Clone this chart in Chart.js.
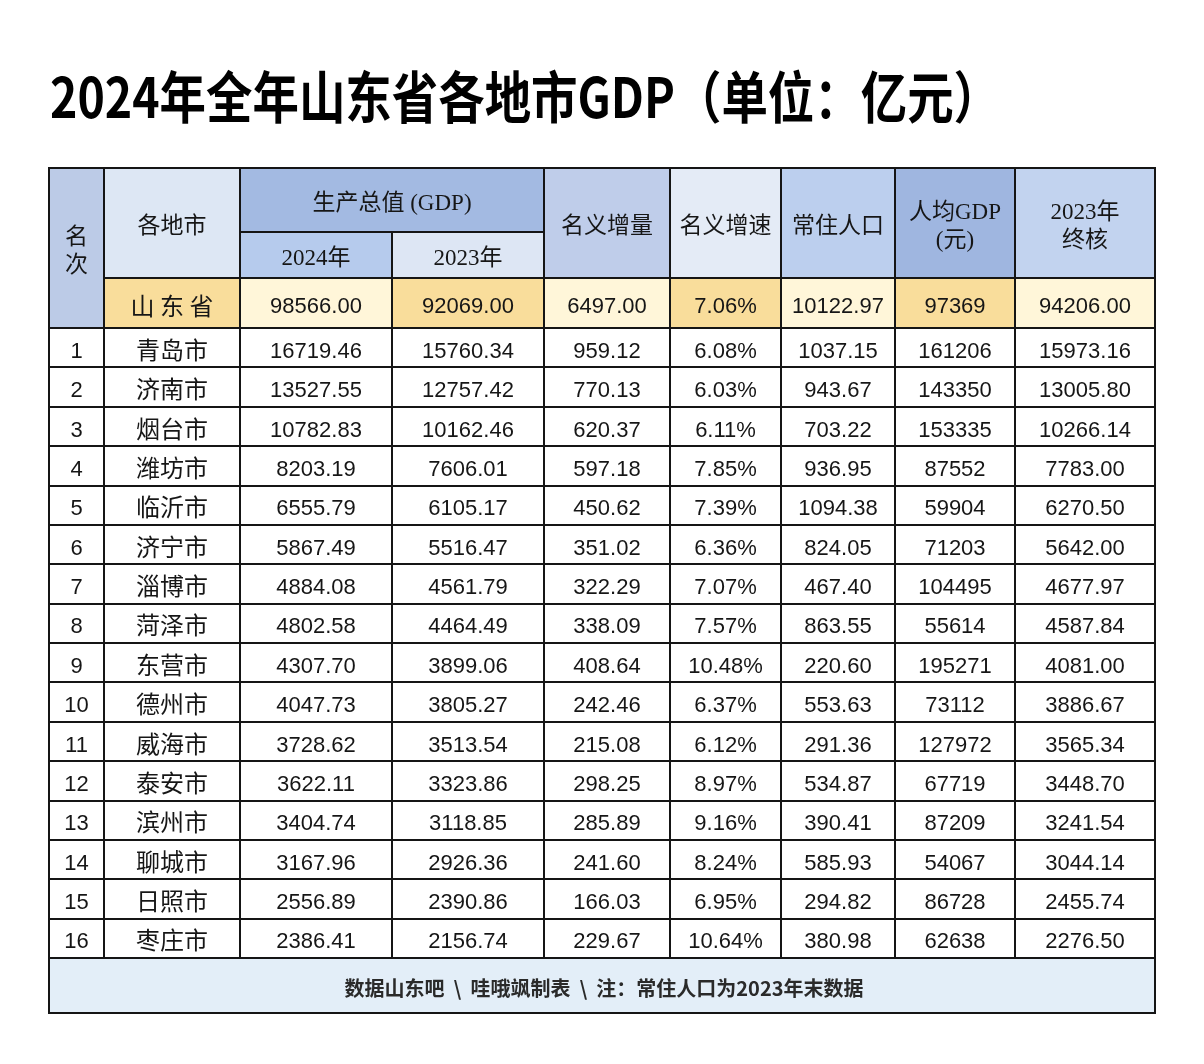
<!DOCTYPE html>
<html>
<head>
<meta charset="utf-8">
<script src="https://cdn.jsdelivr.net/npm/chart.js@4/dist/chart.umd.min.js"></script>
<style>
  html, body { margin: 0; padding: 0; background: #ffffff; }
  #wrap { width: 1204px; height: 1064px; }
</style>
</head>
<body>
<div id="wrap"><canvas id="c" width="1204" height="1064"></canvas></div>
<script>
// ---------------- DATA ----------------
const titleText = '2024年全年山东省各地市GDP（单位：亿元）';
const footerText = '数据山东吧  \\  哇哦飒制表  \\  注：常住人口为2023年末数据';

const ranks = [1, 2, 3, 4, 5, 6, 7, 8, 9, 10, 11, 12, 13, 14, 15, 16];
const cities = ['青岛市', '济南市', '烟台市', '潍坊市', '临沂市', '济宁市', '淄博市', '菏泽市',
                '东营市', '德州市', '威海市', '泰安市', '滨州市', '聊城市', '日照市', '枣庄市'];
const gdp2024 = [16719.46, 13527.55, 10782.83, 8203.19, 6555.79, 5867.49, 4884.08, 4802.58,
                 4307.70, 4047.73, 3728.62, 3622.11, 3404.74, 3167.96, 2556.89, 2386.41];
const gdp2023 = [15760.34, 12757.42, 10162.46, 7606.01, 6105.17, 5516.47, 4561.79, 4464.49,
                 3899.06, 3805.27, 3513.54, 3323.86, 3118.85, 2926.36, 2390.86, 2156.74];
const nominalIncrease = [959.12, 770.13, 620.37, 597.18, 450.62, 351.02, 322.29, 338.09,
                         408.64, 242.46, 215.08, 298.25, 285.89, 241.60, 166.03, 229.67];
const nominalGrowth = [6.08, 6.03, 6.11, 7.85, 7.39, 6.36, 7.07, 7.57,
                       10.48, 6.37, 6.12, 8.97, 9.16, 8.24, 6.95, 10.64];
const population = [1037.15, 943.67, 703.22, 936.95, 1094.38, 824.05, 467.40, 863.55,
                    220.60, 553.63, 291.36, 534.87, 390.41, 585.93, 294.82, 380.98];
const perCapitaGdp = [161206, 143350, 153335, 87552, 59904, 71203, 104495, 55614,
                      195271, 73112, 127972, 67719, 87209, 54067, 86728, 62638];
const final2023 = [15973.16, 13005.80, 10266.14, 7783.00, 6270.50, 5642.00, 4677.97, 4587.84,
                   4081.00, 3886.67, 3565.34, 3448.70, 3241.54, 3044.14, 2455.74, 2276.50];

const provinceName = '山 东 省';
const provinceValues = {
  gdp2024: 98566.00, gdp2023: 92069.00, increase: 6497.00, growth: 7.06,
  population: 10122.97, perCapita: 97369, final2023: 94206.00
};

const headers = ['名\n次', '各地市', '生产总值 (GDP)', '2024年', '2023年', '名义增量', '名义增速',
                 '常住人口', '人均GDP\n(元)', '2023年\n终核'];

// ---------------- LAYOUT (table geometry in scale units) ----------------
const colEdges = [0, 55, 191, 343, 495, 621, 732, 846, 966, 1106];
const HEAD_TOP = 0, HEAD_SPLIT = 64, HEAD_BOTTOM = 110, PROV_BOTTOM = 160;
const ROW_H = 39.375, FOOT_TOP = PROV_BOTTOM + ROW_H * ranks.length, FOOT_BOTTOM = 845;
const rowTop = i => PROV_BOTTOM + ROW_H * i;
const colMid = c => (colEdges[c] + colEdges[c + 1]) / 2;

const GOLD = '#f9dd9b', CREAM = '#fff6d9';
const numFont = '22px "Liberation Sans", "Noto Sans CJK SC", sans-serif';
const cjkFont = '24px "Noto Sans CJK SC", sans-serif';
const headFont = '23px "Liberation Serif", "Noto Sans CJK SC", serif';

// background cells: [c0, c1, y0, y1, color]
const fills = [
  [0, 1, HEAD_TOP, PROV_BOTTOM, '#bccbe7'],
  [1, 2, HEAD_TOP, HEAD_BOTTOM, '#dde7f4'],
  [2, 4, HEAD_TOP, HEAD_SPLIT, '#a3bae2'],
  [2, 3, HEAD_SPLIT, HEAD_BOTTOM, '#b6cbed'],
  [3, 4, HEAD_SPLIT, HEAD_BOTTOM, '#dde6f4'],
  [4, 5, HEAD_TOP, HEAD_BOTTOM, '#bfcdea'],
  [5, 6, HEAD_TOP, HEAD_BOTTOM, '#e4ebf6'],
  [6, 7, HEAD_TOP, HEAD_BOTTOM, '#bccfee'],
  [7, 8, HEAD_TOP, HEAD_BOTTOM, '#9fb6e0'],
  [8, 9, HEAD_TOP, HEAD_BOTTOM, '#c2d3ef'],
  [1, 2, HEAD_BOTTOM, PROV_BOTTOM, GOLD],
  [2, 3, HEAD_BOTTOM, PROV_BOTTOM, CREAM],
  [3, 4, HEAD_BOTTOM, PROV_BOTTOM, GOLD],
  [4, 5, HEAD_BOTTOM, PROV_BOTTOM, CREAM],
  [5, 6, HEAD_BOTTOM, PROV_BOTTOM, GOLD],
  [6, 7, HEAD_BOTTOM, PROV_BOTTOM, CREAM],
  [7, 8, HEAD_BOTTOM, PROV_BOTTOM, GOLD],
  [8, 9, HEAD_BOTTOM, PROV_BOTTOM, CREAM],
  [0, 9, FOOT_TOP, FOOT_BOTTOM, '#e3eef8']
];

// ---------------- DATASETS (text cells placed through the scales) ----------------
const f2 = v => v.toFixed(2);
const pct = v => v.toFixed(2) + '%';
const intf = v => String(v);

function columnDataset(c, values, fmt, font, dy) {
  return {
    font, dy,
    labels: values.map(fmt),
    data: values.map((v, i) => ({ x: colMid(c), y: rowTop(i) + ROW_H / 2 }))
  };
}

const headerCells = [
  { x: colMid(0), y: (HEAD_TOP + PROV_BOTTOM) / 2 },
  { x: colMid(1), y: (HEAD_TOP + HEAD_BOTTOM) / 2 },
  { x: colEdges[3], y: (HEAD_TOP + HEAD_SPLIT) / 2 },
  { x: colMid(2), y: (HEAD_SPLIT + HEAD_BOTTOM) / 2 },
  { x: colMid(3), y: (HEAD_SPLIT + HEAD_BOTTOM) / 2 },
  { x: colMid(4), y: (HEAD_TOP + HEAD_BOTTOM) / 2 },
  { x: colMid(5), y: (HEAD_TOP + HEAD_BOTTOM) / 2 },
  { x: colMid(6), y: (HEAD_TOP + HEAD_BOTTOM) / 2 },
  { x: colMid(7), y: (HEAD_TOP + HEAD_BOTTOM) / 2 },
  { x: colMid(8), y: (HEAD_TOP + HEAD_BOTTOM) / 2 }
];

const provY = (HEAD_BOTTOM + PROV_BOTTOM) / 2;
const provLabels = [provinceName, f2(provinceValues.gdp2024), f2(provinceValues.gdp2023),
  f2(provinceValues.increase), pct(provinceValues.growth), f2(provinceValues.population),
  intf(provinceValues.perCapita), f2(provinceValues.final2023)];

const datasets = [
  { font: headFont, labels: headers, lineH: 28, dy: 4, data: headerCells },
  { font: '24px "Noto Sans CJK SC", sans-serif', labels: provLabels.slice(0, 1), dy: 3,
    data: [{ x: colMid(1), y: provY }] },
  { font: numFont, labels: provLabels.slice(1), dy: 4,
    data: provLabels.slice(1).map((_, k) => ({ x: colMid(k + 2), y: provY })) },
  columnDataset(0, ranks, intf, numFont, 4),
  columnDataset(1, cities, v => v, cjkFont, 2),
  columnDataset(2, gdp2024, f2, numFont, 4),
  columnDataset(3, gdp2023, f2, numFont, 4),
  columnDataset(4, nominalIncrease, f2, numFont, 4),
  columnDataset(5, nominalGrowth, pct, numFont, 4),
  columnDataset(6, population, f2, numFont, 4),
  columnDataset(7, perCapitaGdp, intf, numFont, 4),
  columnDataset(8, final2023, f2, numFont, 4),
  { font: 'bold 20px "Noto Sans CJK SC", sans-serif', labels: [footerText], color: '#2a2a2a', dy: 3,
    data: [{ x: colEdges[9] / 2 + 2, y: (FOOT_TOP + FOOT_BOTTOM) / 2 }] }
].map(d => Object.assign({ pointRadius: 0, pointHoverRadius: 0 }, d));

// ---------------- PLUGIN: draws table through the chart scales ----------------
const tablePlugin = {
  id: 'tablePlugin',
  beforeDatasetsDraw(chart) {
    const { ctx, scales: { x, y } } = chart;
    ctx.save();
    fills.forEach(([c0, c1, y0, y1, col]) => {
      const px0 = x.getPixelForValue(colEdges[c0]), px1 = x.getPixelForValue(colEdges[c1]);
      const py0 = y.getPixelForValue(y0), py1 = y.getPixelForValue(y1);
      ctx.fillStyle = col;
      ctx.fillRect(px0, py0, px1 - px0, py1 - py0);
    });
    ctx.strokeStyle = '#151515';
    ctx.lineWidth = 2;
    const hLine = (v, a, b) => {
      ctx.beginPath();
      ctx.moveTo(x.getPixelForValue(a) - 1, Math.round(y.getPixelForValue(v)));
      ctx.lineTo(x.getPixelForValue(b) + 1, Math.round(y.getPixelForValue(v)));
      ctx.stroke();
    };
    const vLine = (v, a, b) => {
      ctx.beginPath();
      ctx.moveTo(Math.round(x.getPixelForValue(v)), y.getPixelForValue(a) - 1);
      ctx.lineTo(Math.round(x.getPixelForValue(v)), y.getPixelForValue(b) + 1);
      ctx.stroke();
    };
    hLine(HEAD_TOP, colEdges[0], colEdges[9]);
    hLine(HEAD_SPLIT, colEdges[2], colEdges[4]);
    hLine(HEAD_BOTTOM, colEdges[1], colEdges[9]);
    for (let i = 0; i <= ranks.length; i++) hLine(rowTop(i), colEdges[0], colEdges[9]);
    hLine(FOOT_BOTTOM, colEdges[0], colEdges[9]);
    vLine(colEdges[0], HEAD_TOP, FOOT_BOTTOM);
    vLine(colEdges[9], HEAD_TOP, FOOT_BOTTOM);
    for (let c = 1; c < 9; c++) vLine(colEdges[c], c === 3 ? HEAD_SPLIT : HEAD_TOP, FOOT_TOP);
    ctx.restore();
  },
  afterDatasetsDraw(chart) {
    const { ctx } = chart;
    ctx.save();
    ctx.textAlign = 'center';
    ctx.textBaseline = 'middle';
    chart.data.datasets.forEach((ds, i) => {
      const meta = chart.getDatasetMeta(i);
      ctx.font = ds.font;
      ctx.fillStyle = ds.color || '#161616';
      meta.data.forEach((el, j) => {
        const lines = String(ds.labels[j]).split('\n');
        const lh = ds.lineH || 26;
        lines.forEach((t, k) => {
          ctx.fillText(t, el.x, el.y + (k - (lines.length - 1) / 2) * lh + (ds.dy || 0));
        });
      });
    });
    ctx.restore();
  },
  afterDraw(chart) {
    const { ctx, chartArea } = chart;
    ctx.save();
    ctx.font = 'bold 56px "Noto Sans CJK SC", sans-serif';
    ctx.fillStyle = '#000000';
    ctx.textBaseline = 'middle';
    ctx.textAlign = 'left';
    const w = ctx.measureText(titleText).width;
    const sx = 950 / w;
    ctx.translate(chartArea.left + 1, 97);
    ctx.scale(sx, 1);
    ctx.fillText(titleText, 0, 0);
    ctx.restore();
  }
};

new Chart(document.getElementById('c'), {
  type: 'scatter',
  data: { datasets },
  options: {
    responsive: false,
    animation: false,
    events: [],
    layout: { padding: { left: 49, right: 49, top: 168, bottom: 51 } },
    scales: {
      x: { type: 'linear', min: 0, max: 1106, display: false },
      y: { type: 'linear', min: 0, max: 845, reverse: true, display: false }
    },
    plugins: { legend: { display: false }, tooltip: { enabled: false }, title: { display: false } }
  },
  plugins: [tablePlugin]
});
</script>
</body>
</html>
